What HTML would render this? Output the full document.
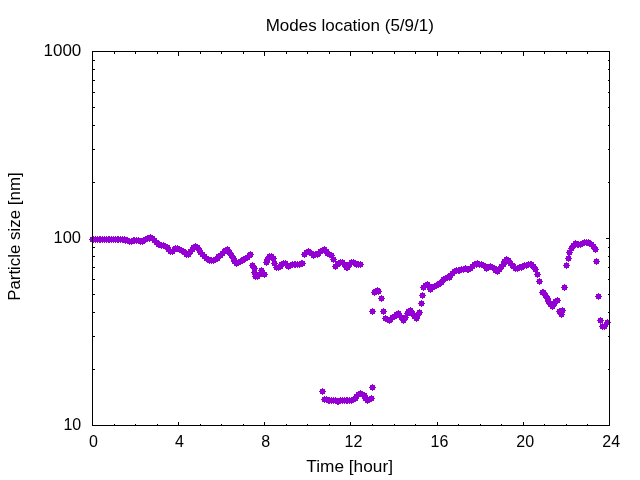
<!DOCTYPE html>
<html><head><meta charset="utf-8"><style>
html,body{margin:0;padding:0;background:#fff;width:640px;height:480px;overflow:hidden}
svg{display:block;will-change:transform}
text{font-family:"Liberation Sans",sans-serif;font-size:16px;fill:#000}
</style></head><body>
<svg width="640" height="480" viewBox="0 0 640 480">
<rect width="640" height="480" fill="#fff"/>
<text transform="translate(349.75,31) scale(1.064,1)" text-anchor="middle">Modes location (5/9/1)</text>
<text transform="translate(81.3,56) scale(1.062,1)" text-anchor="end">1000</text>
<text transform="translate(81.0,243) scale(1.03,1)" text-anchor="end">100</text>
<text transform="translate(81.2,430) scale(1.0,1)" text-anchor="end">10</text>
<text x="93.45" y="447" text-anchor="middle">0</text><text x="179.5" y="447" text-anchor="middle">4</text><text x="265.65" y="447" text-anchor="middle">8</text><text x="353.5" y="447" text-anchor="middle">12</text><text x="439.4" y="447" text-anchor="middle">16</text><text x="525.2" y="447" text-anchor="middle">20</text><text x="611.2" y="447" text-anchor="middle">24</text>
<text transform="translate(349.65,472) scale(1.079,1)" text-anchor="middle">Time [hour]</text>
<text transform="translate(20,236.6) rotate(-90) scale(1.055,1)" text-anchor="middle">Particle size [nm]</text>
<path d="M92.5 425.5v-4 M92.5 51.5v4 M114.5 425.5v-2 M114.5 51.5v2 M135.5 425.5v-2 M135.5 51.5v2 M157.5 425.5v-2 M157.5 51.5v2 M178.5 425.5v-4 M178.5 51.5v4 M200.5 425.5v-2 M200.5 51.5v2 M221.5 425.5v-2 M221.5 51.5v2 M243.5 425.5v-2 M243.5 51.5v2 M264.5 425.5v-4 M264.5 51.5v4 M286.5 425.5v-2 M286.5 51.5v2 M307.5 425.5v-2 M307.5 51.5v2 M329.5 425.5v-2 M329.5 51.5v2 M350.5 425.5v-4 M350.5 51.5v4 M372.5 425.5v-2 M372.5 51.5v2 M394.5 425.5v-2 M394.5 51.5v2 M415.5 425.5v-2 M415.5 51.5v2 M437.5 425.5v-4 M437.5 51.5v4 M458.5 425.5v-2 M458.5 51.5v2 M480.5 425.5v-2 M480.5 51.5v2 M501.5 425.5v-2 M501.5 51.5v2 M523.5 425.5v-4 M523.5 51.5v4 M544.5 425.5v-2 M544.5 51.5v2 M566.5 425.5v-2 M566.5 51.5v2 M587.5 425.5v-2 M587.5 51.5v2 M609.5 425.5v-4 M609.5 51.5v4 M92.5 425.5h4 M609.5 425.5h-4 M92.5 369.5h2 M609.5 369.5h-2 M92.5 336.5h2 M609.5 336.5h-2 M92.5 312.5h2 M609.5 312.5h-2 M92.5 294.5h2 M609.5 294.5h-2 M92.5 279.5h2 M609.5 279.5h-2 M92.5 267.5h2 M609.5 267.5h-2 M92.5 256.5h2 M609.5 256.5h-2 M92.5 247.5h2 M609.5 247.5h-2 M92.5 238.5h4 M609.5 238.5h-4 M92.5 238.5h4 M609.5 238.5h-4 M92.5 182.5h2 M609.5 182.5h-2 M92.5 149.5h2 M609.5 149.5h-2 M92.5 125.5h2 M609.5 125.5h-2 M92.5 107.5h2 M609.5 107.5h-2 M92.5 92.5h2 M609.5 92.5h-2 M92.5 80.5h2 M609.5 80.5h-2 M92.5 69.5h2 M609.5 69.5h-2 M92.5 60.5h2 M609.5 60.5h-2 M92.5 51.5h4 M609.5 51.5h-4" fill="none" stroke="#000" stroke-width="1" shape-rendering="crispEdges"/>
<path d="M90.0 237.0h5v5h-5z M92.0 236.0h1v7h-1z M89.0 239.0h7v1h-7z M91.0 237.0h5v5h-5z M93.0 236.0h1v7h-1z M90.0 239.0h7v1h-7z M93.0 237.0h5v5h-5z M95.0 236.0h1v7h-1z M92.0 239.0h7v1h-7z M95.0 237.0h5v5h-5z M97.0 236.0h1v7h-1z M94.0 239.0h7v1h-7z M97.0 237.0h5v5h-5z M99.0 236.0h1v7h-1z M96.0 239.0h7v1h-7z M98.0 237.0h5v5h-5z M100.0 236.0h1v7h-1z M97.0 239.0h7v1h-7z M100.0 237.0h5v5h-5z M102.0 236.0h1v7h-1z M99.0 239.0h7v1h-7z M102.0 237.0h5v5h-5z M104.0 236.0h1v7h-1z M101.0 239.0h7v1h-7z M104.0 237.0h5v5h-5z M106.0 236.0h1v7h-1z M103.0 239.0h7v1h-7z M106.0 237.0h5v5h-5z M108.0 236.0h1v7h-1z M105.0 239.0h7v1h-7z M107.0 237.0h5v5h-5z M109.0 236.0h1v7h-1z M106.0 239.0h7v1h-7z M109.0 237.0h5v5h-5z M111.0 236.0h1v7h-1z M108.0 239.0h7v1h-7z M111.0 237.0h5v5h-5z M113.0 236.0h1v7h-1z M110.0 239.0h7v1h-7z M113.0 237.0h5v5h-5z M115.0 236.0h1v7h-1z M112.0 239.0h7v1h-7z M115.0 237.0h5v5h-5z M117.0 236.0h1v7h-1z M114.0 239.0h7v1h-7z M116.0 237.0h5v5h-5z M118.0 236.0h1v7h-1z M115.0 239.0h7v1h-7z M118.0 237.0h5v5h-5z M120.0 236.0h1v7h-1z M117.0 239.0h7v1h-7z M120.0 237.0h5v5h-5z M122.0 236.0h1v7h-1z M119.0 239.0h7v1h-7z M122.0 237.0h5v5h-5z M124.0 236.0h1v7h-1z M121.0 239.0h7v1h-7z M123.0 238.0h5v5h-5z M125.0 237.0h1v7h-1z M122.0 240.0h7v1h-7z M125.0 238.0h5v5h-5z M127.0 237.0h1v7h-1z M124.0 240.0h7v1h-7z M127.0 239.0h5v5h-5z M129.0 238.0h1v7h-1z M126.0 241.0h7v1h-7z M129.0 239.0h5v5h-5z M131.0 238.0h1v7h-1z M128.0 241.0h7v1h-7z M131.0 238.0h5v5h-5z M133.0 237.0h1v7h-1z M130.0 240.0h7v1h-7z M132.0 238.0h5v5h-5z M134.0 237.0h1v7h-1z M131.0 240.0h7v1h-7z M134.0 238.0h5v5h-5z M136.0 237.0h1v7h-1z M133.0 240.0h7v1h-7z M136.0 238.0h5v5h-5z M138.0 237.0h1v7h-1z M135.0 240.0h7v1h-7z M138.0 239.0h5v5h-5z M140.0 238.0h1v7h-1z M137.0 241.0h7v1h-7z M140.0 239.0h5v5h-5z M142.0 238.0h1v7h-1z M139.0 241.0h7v1h-7z M141.0 238.0h5v5h-5z M143.0 237.0h1v7h-1z M140.0 240.0h7v1h-7z M143.0 237.0h5v5h-5z M145.0 236.0h1v7h-1z M142.0 239.0h7v1h-7z M145.0 236.0h5v5h-5z M147.0 235.0h1v7h-1z M144.0 238.0h7v1h-7z M147.0 236.0h5v5h-5z M149.0 235.0h1v7h-1z M146.0 238.0h7v1h-7z M148.0 235.0h5v5h-5z M150.0 234.0h1v7h-1z M147.0 237.0h7v1h-7z M150.0 236.0h5v5h-5z M152.0 235.0h1v7h-1z M149.0 238.0h7v1h-7z M152.0 238.0h5v5h-5z M154.0 237.0h1v7h-1z M151.0 240.0h7v1h-7z M154.0 240.0h5v5h-5z M156.0 239.0h1v7h-1z M153.0 242.0h7v1h-7z M156.0 242.0h5v5h-5z M158.0 241.0h1v7h-1z M155.0 244.0h7v1h-7z M157.0 242.0h5v5h-5z M159.0 241.0h1v7h-1z M156.0 244.0h7v1h-7z M159.0 243.0h5v5h-5z M161.0 242.0h1v7h-1z M158.0 245.0h7v1h-7z M161.0 243.0h5v5h-5z M163.0 242.0h1v7h-1z M160.0 245.0h7v1h-7z M163.0 244.0h5v5h-5z M165.0 243.0h1v7h-1z M162.0 246.0h7v1h-7z M165.0 245.0h5v5h-5z M167.0 244.0h1v7h-1z M164.0 247.0h7v1h-7z M166.0 247.0h5v5h-5z M168.0 246.0h1v7h-1z M165.0 249.0h7v1h-7z M168.0 249.0h5v5h-5z M170.0 248.0h1v7h-1z M167.0 251.0h7v1h-7z M170.0 249.0h5v5h-5z M172.0 248.0h1v7h-1z M169.0 251.0h7v1h-7z M172.0 247.0h5v5h-5z M174.0 246.0h1v7h-1z M171.0 249.0h7v1h-7z M173.0 246.0h5v5h-5z M175.0 245.0h1v7h-1z M172.0 248.0h7v1h-7z M175.0 246.0h5v5h-5z M177.0 245.0h1v7h-1z M174.0 248.0h7v1h-7z M177.0 247.0h5v5h-5z M179.0 246.0h1v7h-1z M176.0 249.0h7v1h-7z M179.0 248.0h5v5h-5z M181.0 247.0h1v7h-1z M178.0 250.0h7v1h-7z M181.0 249.0h5v5h-5z M183.0 248.0h1v7h-1z M180.0 251.0h7v1h-7z M182.0 250.0h5v5h-5z M184.0 249.0h1v7h-1z M181.0 252.0h7v1h-7z M184.0 252.0h5v5h-5z M186.0 251.0h1v7h-1z M183.0 254.0h7v1h-7z M186.0 252.0h5v5h-5z M188.0 251.0h1v7h-1z M185.0 254.0h7v1h-7z M188.0 249.0h5v5h-5z M190.0 248.0h1v7h-1z M187.0 251.0h7v1h-7z M190.0 247.0h5v5h-5z M192.0 246.0h1v7h-1z M189.0 249.0h7v1h-7z M191.0 245.0h5v5h-5z M193.0 244.0h1v7h-1z M190.0 247.0h7v1h-7z M193.0 244.0h5v5h-5z M195.0 243.0h1v7h-1z M192.0 246.0h7v1h-7z M195.0 245.0h5v5h-5z M197.0 244.0h1v7h-1z M194.0 247.0h7v1h-7z M197.0 248.0h5v5h-5z M199.0 247.0h1v7h-1z M196.0 250.0h7v1h-7z M198.0 250.0h5v5h-5z M200.0 249.0h1v7h-1z M197.0 252.0h7v1h-7z M200.0 252.0h5v5h-5z M202.0 251.0h1v7h-1z M199.0 254.0h7v1h-7z M202.0 254.0h5v5h-5z M204.0 253.0h1v7h-1z M201.0 256.0h7v1h-7z M204.0 256.0h5v5h-5z M206.0 255.0h1v7h-1z M203.0 258.0h7v1h-7z M206.0 257.0h5v5h-5z M208.0 256.0h1v7h-1z M205.0 259.0h7v1h-7z M207.0 258.0h5v5h-5z M209.0 257.0h1v7h-1z M206.0 260.0h7v1h-7z M209.0 258.0h5v5h-5z M211.0 257.0h1v7h-1z M208.0 260.0h7v1h-7z M211.0 258.0h5v5h-5z M213.0 257.0h1v7h-1z M210.0 260.0h7v1h-7z M213.0 257.0h5v5h-5z M215.0 256.0h1v7h-1z M212.0 259.0h7v1h-7z M215.0 256.0h5v5h-5z M217.0 255.0h1v7h-1z M214.0 258.0h7v1h-7z M216.0 254.0h5v5h-5z M218.0 253.0h1v7h-1z M215.0 256.0h7v1h-7z M218.0 253.0h5v5h-5z M220.0 252.0h1v7h-1z M217.0 255.0h7v1h-7z M220.0 251.0h5v5h-5z M222.0 250.0h1v7h-1z M219.0 253.0h7v1h-7z M222.0 249.0h5v5h-5z M224.0 248.0h1v7h-1z M221.0 251.0h7v1h-7z M223.0 248.0h5v5h-5z M225.0 247.0h1v7h-1z M222.0 250.0h7v1h-7z M225.0 247.0h5v5h-5z M227.0 246.0h1v7h-1z M224.0 249.0h7v1h-7z M227.0 250.0h5v5h-5z M229.0 249.0h1v7h-1z M226.0 252.0h7v1h-7z M229.0 253.0h5v5h-5z M231.0 252.0h1v7h-1z M228.0 255.0h7v1h-7z M231.0 256.0h5v5h-5z M233.0 255.0h1v7h-1z M230.0 258.0h7v1h-7z M232.0 259.0h5v5h-5z M234.0 258.0h1v7h-1z M231.0 261.0h7v1h-7z M234.0 261.0h5v5h-5z M236.0 260.0h1v7h-1z M233.0 263.0h7v1h-7z M236.0 260.0h5v5h-5z M238.0 259.0h1v7h-1z M235.0 262.0h7v1h-7z M238.0 259.0h5v5h-5z M240.0 258.0h1v7h-1z M237.0 261.0h7v1h-7z M240.0 258.0h5v5h-5z M242.0 257.0h1v7h-1z M239.0 260.0h7v1h-7z M241.0 257.0h5v5h-5z M243.0 256.0h1v7h-1z M240.0 259.0h7v1h-7z M243.0 256.0h5v5h-5z M245.0 255.0h1v7h-1z M242.0 258.0h7v1h-7z M245.0 255.0h5v5h-5z M247.0 254.0h1v7h-1z M244.0 257.0h7v1h-7z M247.0 253.0h5v5h-5z M249.0 252.0h1v7h-1z M246.0 255.0h7v1h-7z M248.0 252.0h5v5h-5z M250.0 251.0h1v7h-1z M247.0 254.0h7v1h-7z M605.0 320.0h5v5h-5z M607.0 319.0h1v7h-1z M604.0 322.0h7v1h-7z M264.0 260.0h5v5h-5z M266.0 259.0h1v7h-1z M263.0 262.0h7v1h-7z M265.0 257.0h5v5h-5z M267.0 256.0h1v7h-1z M264.0 259.0h7v1h-7z M267.0 254.0h5v5h-5z M269.0 253.0h1v7h-1z M266.0 256.0h7v1h-7z M269.0 254.0h5v5h-5z M271.0 253.0h1v7h-1z M268.0 256.0h7v1h-7z M271.0 256.0h5v5h-5z M273.0 255.0h1v7h-1z M270.0 258.0h7v1h-7z M272.0 261.0h5v5h-5z M274.0 260.0h1v7h-1z M271.0 263.0h7v1h-7z M274.0 265.0h5v5h-5z M276.0 264.0h1v7h-1z M273.0 267.0h7v1h-7z M276.0 265.0h5v5h-5z M278.0 264.0h1v7h-1z M275.0 267.0h7v1h-7z M278.0 264.0h5v5h-5z M280.0 263.0h1v7h-1z M277.0 266.0h7v1h-7z M279.0 262.0h5v5h-5z M281.0 261.0h1v7h-1z M278.0 264.0h7v1h-7z M281.0 261.0h5v5h-5z M283.0 260.0h1v7h-1z M280.0 263.0h7v1h-7z M283.0 261.0h5v5h-5z M285.0 260.0h1v7h-1z M282.0 263.0h7v1h-7z M285.0 263.0h5v5h-5z M287.0 262.0h1v7h-1z M284.0 265.0h7v1h-7z M286.0 264.0h5v5h-5z M288.0 263.0h1v7h-1z M285.0 266.0h7v1h-7z M288.0 263.0h5v5h-5z M290.0 262.0h1v7h-1z M287.0 265.0h7v1h-7z M290.0 262.0h5v5h-5z M292.0 261.0h1v7h-1z M289.0 264.0h7v1h-7z M292.0 262.0h5v5h-5z M294.0 261.0h1v7h-1z M291.0 264.0h7v1h-7z M293.0 262.0h5v5h-5z M295.0 261.0h1v7h-1z M292.0 264.0h7v1h-7z M295.0 262.0h5v5h-5z M297.0 261.0h1v7h-1z M294.0 264.0h7v1h-7z M297.0 262.0h5v5h-5z M299.0 261.0h1v7h-1z M296.0 264.0h7v1h-7z M299.0 261.0h5v5h-5z M301.0 260.0h1v7h-1z M298.0 263.0h7v1h-7z M300.0 261.0h5v5h-5z M302.0 260.0h1v7h-1z M299.0 263.0h7v1h-7z M302.0 252.0h5v5h-5z M304.0 251.0h1v7h-1z M301.0 254.0h7v1h-7z M304.0 250.0h5v5h-5z M306.0 249.0h1v7h-1z M303.0 252.0h7v1h-7z M306.0 249.0h5v5h-5z M308.0 248.0h1v7h-1z M305.0 251.0h7v1h-7z M307.0 250.0h5v5h-5z M309.0 249.0h1v7h-1z M306.0 252.0h7v1h-7z M309.0 251.0h5v5h-5z M311.0 250.0h1v7h-1z M308.0 253.0h7v1h-7z M311.0 253.0h5v5h-5z M313.0 252.0h1v7h-1z M310.0 255.0h7v1h-7z M313.0 252.0h5v5h-5z M315.0 251.0h1v7h-1z M312.0 254.0h7v1h-7z M315.0 252.0h5v5h-5z M317.0 251.0h1v7h-1z M314.0 254.0h7v1h-7z M316.0 251.0h5v5h-5z M318.0 250.0h1v7h-1z M315.0 253.0h7v1h-7z M318.0 249.0h5v5h-5z M320.0 248.0h1v7h-1z M317.0 251.0h7v1h-7z M320.0 248.0h5v5h-5z M322.0 247.0h1v7h-1z M319.0 250.0h7v1h-7z M322.0 247.0h5v5h-5z M324.0 246.0h1v7h-1z M321.0 249.0h7v1h-7z M324.0 249.0h5v5h-5z M326.0 248.0h1v7h-1z M323.0 251.0h7v1h-7z M325.0 251.0h5v5h-5z M327.0 250.0h1v7h-1z M324.0 253.0h7v1h-7z M327.0 252.0h5v5h-5z M329.0 251.0h1v7h-1z M326.0 254.0h7v1h-7z M329.0 253.0h5v5h-5z M331.0 252.0h1v7h-1z M328.0 255.0h7v1h-7z M331.0 257.0h5v5h-5z M333.0 256.0h1v7h-1z M330.0 259.0h7v1h-7z M333.0 264.0h5v5h-5z M335.0 263.0h1v7h-1z M332.0 266.0h7v1h-7z M335.0 262.0h5v5h-5z M337.0 261.0h1v7h-1z M334.0 264.0h7v1h-7z M336.0 261.0h5v5h-5z M338.0 260.0h1v7h-1z M335.0 263.0h7v1h-7z M338.0 260.0h5v5h-5z M340.0 259.0h1v7h-1z M337.0 262.0h7v1h-7z M340.0 260.0h5v5h-5z M342.0 259.0h1v7h-1z M339.0 262.0h7v1h-7z M342.0 262.0h5v5h-5z M344.0 261.0h1v7h-1z M341.0 264.0h7v1h-7z M344.0 265.0h5v5h-5z M346.0 264.0h1v7h-1z M343.0 267.0h7v1h-7z M345.0 265.0h5v5h-5z M347.0 264.0h1v7h-1z M344.0 267.0h7v1h-7z M347.0 262.0h5v5h-5z M349.0 261.0h1v7h-1z M346.0 264.0h7v1h-7z M349.0 260.0h5v5h-5z M351.0 259.0h1v7h-1z M348.0 262.0h7v1h-7z M351.0 260.0h5v5h-5z M353.0 259.0h1v7h-1z M350.0 262.0h7v1h-7z M353.0 261.0h5v5h-5z M355.0 260.0h1v7h-1z M352.0 263.0h7v1h-7z M354.0 262.0h5v5h-5z M356.0 261.0h1v7h-1z M353.0 264.0h7v1h-7z M356.0 262.0h5v5h-5z M358.0 261.0h1v7h-1z M355.0 264.0h7v1h-7z M358.0 262.0h5v5h-5z M360.0 261.0h1v7h-1z M357.0 264.0h7v1h-7z M322.0 397.0h5v5h-5z M324.0 396.0h1v7h-1z M321.0 399.0h7v1h-7z M324.0 397.0h5v5h-5z M326.0 396.0h1v7h-1z M323.0 399.0h7v1h-7z M326.0 398.0h5v5h-5z M328.0 397.0h1v7h-1z M325.0 400.0h7v1h-7z M327.0 398.0h5v5h-5z M329.0 397.0h1v7h-1z M326.0 400.0h7v1h-7z M329.0 398.0h5v5h-5z M331.0 397.0h1v7h-1z M328.0 400.0h7v1h-7z M331.0 398.0h5v5h-5z M333.0 397.0h1v7h-1z M330.0 400.0h7v1h-7z M333.0 398.0h5v5h-5z M335.0 397.0h1v7h-1z M332.0 400.0h7v1h-7z M335.0 399.0h5v5h-5z M337.0 398.0h1v7h-1z M334.0 401.0h7v1h-7z M336.0 399.0h5v5h-5z M338.0 398.0h1v7h-1z M335.0 401.0h7v1h-7z M338.0 398.0h5v5h-5z M340.0 397.0h1v7h-1z M337.0 400.0h7v1h-7z M340.0 398.0h5v5h-5z M342.0 397.0h1v7h-1z M339.0 400.0h7v1h-7z M342.0 398.0h5v5h-5z M344.0 397.0h1v7h-1z M341.0 400.0h7v1h-7z M344.0 398.0h5v5h-5z M346.0 397.0h1v7h-1z M343.0 400.0h7v1h-7z M345.0 398.0h5v5h-5z M347.0 397.0h1v7h-1z M344.0 400.0h7v1h-7z M347.0 398.0h5v5h-5z M349.0 397.0h1v7h-1z M346.0 400.0h7v1h-7z M349.0 398.0h5v5h-5z M351.0 397.0h1v7h-1z M348.0 400.0h7v1h-7z M351.0 397.0h5v5h-5z M353.0 396.0h1v7h-1z M350.0 399.0h7v1h-7z M353.0 396.0h5v5h-5z M355.0 395.0h1v7h-1z M352.0 398.0h7v1h-7z M354.0 394.0h5v5h-5z M356.0 393.0h1v7h-1z M353.0 396.0h7v1h-7z M356.0 392.0h5v5h-5z M358.0 391.0h1v7h-1z M355.0 394.0h7v1h-7z M358.0 391.0h5v5h-5z M360.0 390.0h1v7h-1z M357.0 393.0h7v1h-7z M360.0 392.0h5v5h-5z M362.0 391.0h1v7h-1z M359.0 394.0h7v1h-7z M362.0 393.0h5v5h-5z M364.0 392.0h1v7h-1z M361.0 395.0h7v1h-7z M363.0 396.0h5v5h-5z M365.0 395.0h1v7h-1z M362.0 398.0h7v1h-7z M365.0 398.0h5v5h-5z M367.0 397.0h1v7h-1z M364.0 400.0h7v1h-7z M367.0 397.0h5v5h-5z M369.0 396.0h1v7h-1z M366.0 399.0h7v1h-7z M369.0 396.0h5v5h-5z M371.0 395.0h1v7h-1z M368.0 398.0h7v1h-7z M372.0 290.0h5v5h-5z M374.0 289.0h1v7h-1z M371.0 292.0h7v1h-7z M373.0 289.0h5v5h-5z M375.0 288.0h1v7h-1z M372.0 291.0h7v1h-7z M375.0 288.0h5v5h-5z M377.0 287.0h1v7h-1z M374.0 290.0h7v1h-7z M376.0 289.0h5v5h-5z M378.0 288.0h1v7h-1z M375.0 291.0h7v1h-7z M383.0 316.0h5v5h-5z M385.0 315.0h1v7h-1z M382.0 318.0h7v1h-7z M385.0 317.0h5v5h-5z M387.0 316.0h1v7h-1z M384.0 319.0h7v1h-7z M387.0 318.0h5v5h-5z M389.0 317.0h1v7h-1z M386.0 320.0h7v1h-7z M388.0 317.0h5v5h-5z M390.0 316.0h1v7h-1z M387.0 319.0h7v1h-7z M390.0 315.0h5v5h-5z M392.0 314.0h1v7h-1z M389.0 317.0h7v1h-7z M392.0 314.0h5v5h-5z M394.0 313.0h1v7h-1z M391.0 316.0h7v1h-7z M394.0 312.0h5v5h-5z M396.0 311.0h1v7h-1z M393.0 314.0h7v1h-7z M396.0 311.0h5v5h-5z M398.0 310.0h1v7h-1z M395.0 313.0h7v1h-7z M397.0 313.0h5v5h-5z M399.0 312.0h1v7h-1z M396.0 315.0h7v1h-7z M399.0 315.0h5v5h-5z M401.0 314.0h1v7h-1z M398.0 317.0h7v1h-7z M401.0 318.0h5v5h-5z M403.0 317.0h1v7h-1z M400.0 320.0h7v1h-7z M403.0 315.0h5v5h-5z M405.0 314.0h1v7h-1z M402.0 317.0h7v1h-7z M405.0 311.0h5v5h-5z M407.0 310.0h1v7h-1z M404.0 313.0h7v1h-7z M406.0 309.0h5v5h-5z M408.0 308.0h1v7h-1z M405.0 311.0h7v1h-7z M408.0 308.0h5v5h-5z M410.0 307.0h1v7h-1z M407.0 310.0h7v1h-7z M410.0 311.0h5v5h-5z M412.0 310.0h1v7h-1z M409.0 313.0h7v1h-7z M412.0 314.0h5v5h-5z M414.0 313.0h1v7h-1z M411.0 316.0h7v1h-7z M414.0 316.0h5v5h-5z M416.0 315.0h1v7h-1z M413.0 318.0h7v1h-7z M415.0 313.0h5v5h-5z M417.0 312.0h1v7h-1z M414.0 315.0h7v1h-7z M417.0 310.0h5v5h-5z M419.0 309.0h1v7h-1z M416.0 312.0h7v1h-7z M421.0 285.0h5v5h-5z M423.0 284.0h1v7h-1z M420.0 287.0h7v1h-7z M423.0 283.0h5v5h-5z M425.0 282.0h1v7h-1z M422.0 285.0h7v1h-7z M425.0 282.0h5v5h-5z M427.0 281.0h1v7h-1z M424.0 284.0h7v1h-7z M427.0 284.0h5v5h-5z M429.0 283.0h1v7h-1z M426.0 286.0h7v1h-7z M428.0 287.0h5v5h-5z M430.0 286.0h1v7h-1z M427.0 289.0h7v1h-7z M430.0 285.0h5v5h-5z M432.0 284.0h1v7h-1z M429.0 287.0h7v1h-7z M432.0 284.0h5v5h-5z M434.0 283.0h1v7h-1z M431.0 286.0h7v1h-7z M434.0 283.0h5v5h-5z M436.0 282.0h1v7h-1z M433.0 285.0h7v1h-7z M436.0 282.0h5v5h-5z M438.0 281.0h1v7h-1z M435.0 284.0h7v1h-7z M437.0 281.0h5v5h-5z M439.0 280.0h1v7h-1z M436.0 283.0h7v1h-7z M439.0 280.0h5v5h-5z M441.0 279.0h1v7h-1z M438.0 282.0h7v1h-7z M441.0 277.0h5v5h-5z M443.0 276.0h1v7h-1z M440.0 279.0h7v1h-7z M443.0 276.0h5v5h-5z M445.0 275.0h1v7h-1z M442.0 278.0h7v1h-7z M445.0 275.0h5v5h-5z M447.0 274.0h1v7h-1z M444.0 277.0h7v1h-7z M447.0 275.0h5v5h-5z M449.0 274.0h1v7h-1z M446.0 277.0h7v1h-7z M448.0 273.0h5v5h-5z M450.0 272.0h1v7h-1z M447.0 275.0h7v1h-7z M450.0 271.0h5v5h-5z M452.0 270.0h1v7h-1z M449.0 273.0h7v1h-7z M452.0 269.0h5v5h-5z M454.0 268.0h1v7h-1z M451.0 271.0h7v1h-7z M454.0 268.0h5v5h-5z M456.0 267.0h1v7h-1z M453.0 270.0h7v1h-7z M456.0 268.0h5v5h-5z M458.0 267.0h1v7h-1z M455.0 270.0h7v1h-7z M457.0 268.0h5v5h-5z M459.0 267.0h1v7h-1z M456.0 270.0h7v1h-7z M459.0 267.0h5v5h-5z M461.0 266.0h1v7h-1z M458.0 269.0h7v1h-7z M461.0 267.0h5v5h-5z M463.0 266.0h1v7h-1z M460.0 269.0h7v1h-7z M463.0 266.0h5v5h-5z M465.0 265.0h1v7h-1z M462.0 268.0h7v1h-7z M465.0 267.0h5v5h-5z M467.0 266.0h1v7h-1z M464.0 269.0h7v1h-7z M466.0 267.0h5v5h-5z M468.0 266.0h1v7h-1z M465.0 269.0h7v1h-7z M468.0 266.0h5v5h-5z M470.0 265.0h1v7h-1z M467.0 268.0h7v1h-7z M470.0 264.0h5v5h-5z M472.0 263.0h1v7h-1z M469.0 266.0h7v1h-7z M472.0 262.0h5v5h-5z M474.0 261.0h1v7h-1z M471.0 264.0h7v1h-7z M474.0 262.0h5v5h-5z M476.0 261.0h1v7h-1z M473.0 264.0h7v1h-7z M475.0 261.0h5v5h-5z M477.0 260.0h1v7h-1z M474.0 263.0h7v1h-7z M477.0 262.0h5v5h-5z M479.0 261.0h1v7h-1z M476.0 264.0h7v1h-7z M479.0 262.0h5v5h-5z M481.0 261.0h1v7h-1z M478.0 264.0h7v1h-7z M481.0 263.0h5v5h-5z M483.0 262.0h1v7h-1z M480.0 265.0h7v1h-7z M483.0 264.0h5v5h-5z M485.0 263.0h1v7h-1z M482.0 266.0h7v1h-7z M484.0 266.0h5v5h-5z M486.0 265.0h1v7h-1z M483.0 268.0h7v1h-7z M486.0 265.0h5v5h-5z M488.0 264.0h1v7h-1z M485.0 267.0h7v1h-7z M488.0 264.0h5v5h-5z M490.0 263.0h1v7h-1z M487.0 266.0h7v1h-7z M490.0 265.0h5v5h-5z M492.0 264.0h1v7h-1z M489.0 267.0h7v1h-7z M492.0 266.0h5v5h-5z M494.0 265.0h1v7h-1z M491.0 268.0h7v1h-7z M493.0 268.0h5v5h-5z M495.0 267.0h1v7h-1z M492.0 270.0h7v1h-7z M495.0 269.0h5v5h-5z M497.0 268.0h1v7h-1z M494.0 271.0h7v1h-7z M497.0 267.0h5v5h-5z M499.0 266.0h1v7h-1z M496.0 269.0h7v1h-7z M499.0 264.0h5v5h-5z M501.0 263.0h1v7h-1z M498.0 266.0h7v1h-7z M501.0 262.0h5v5h-5z M503.0 261.0h1v7h-1z M500.0 264.0h7v1h-7z M502.0 259.0h5v5h-5z M504.0 258.0h1v7h-1z M501.0 261.0h7v1h-7z M504.0 257.0h5v5h-5z M506.0 256.0h1v7h-1z M503.0 259.0h7v1h-7z M506.0 258.0h5v5h-5z M508.0 257.0h1v7h-1z M505.0 260.0h7v1h-7z M508.0 261.0h5v5h-5z M510.0 260.0h1v7h-1z M507.0 263.0h7v1h-7z M510.0 263.0h5v5h-5z M512.0 262.0h1v7h-1z M509.0 265.0h7v1h-7z M511.0 264.0h5v5h-5z M513.0 263.0h1v7h-1z M510.0 266.0h7v1h-7z M513.0 266.0h5v5h-5z M515.0 265.0h1v7h-1z M512.0 268.0h7v1h-7z M515.0 266.0h5v5h-5z M517.0 265.0h1v7h-1z M514.0 268.0h7v1h-7z M517.0 265.0h5v5h-5z M519.0 264.0h1v7h-1z M516.0 267.0h7v1h-7z M519.0 265.0h5v5h-5z M521.0 264.0h1v7h-1z M518.0 267.0h7v1h-7z M520.0 264.0h5v5h-5z M522.0 263.0h1v7h-1z M519.0 266.0h7v1h-7z M522.0 263.0h5v5h-5z M524.0 262.0h1v7h-1z M521.0 265.0h7v1h-7z M524.0 263.0h5v5h-5z M526.0 262.0h1v7h-1z M523.0 265.0h7v1h-7z M526.0 262.0h5v5h-5z M528.0 261.0h1v7h-1z M525.0 264.0h7v1h-7z M528.0 262.0h5v5h-5z M530.0 261.0h1v7h-1z M527.0 264.0h7v1h-7z M529.0 262.0h5v5h-5z M531.0 261.0h1v7h-1z M528.0 264.0h7v1h-7z M531.0 264.0h5v5h-5z M533.0 263.0h1v7h-1z M530.0 266.0h7v1h-7z M533.0 267.0h5v5h-5z M535.0 266.0h1v7h-1z M532.0 269.0h7v1h-7z M535.0 272.0h5v5h-5z M537.0 271.0h1v7h-1z M534.0 274.0h7v1h-7z M537.0 279.0h5v5h-5z M539.0 278.0h1v7h-1z M536.0 281.0h7v1h-7z M540.0 290.0h5v5h-5z M542.0 289.0h1v7h-1z M539.0 292.0h7v1h-7z M541.0 290.0h5v5h-5z M543.0 289.0h1v7h-1z M540.0 292.0h7v1h-7z M543.0 293.0h5v5h-5z M545.0 292.0h1v7h-1z M542.0 295.0h7v1h-7z M545.0 296.0h5v5h-5z M547.0 295.0h1v7h-1z M544.0 298.0h7v1h-7z M546.0 299.0h5v5h-5z M548.0 298.0h1v7h-1z M545.0 301.0h7v1h-7z M548.0 302.0h5v5h-5z M550.0 301.0h1v7h-1z M547.0 304.0h7v1h-7z M550.0 304.0h5v5h-5z M552.0 303.0h1v7h-1z M549.0 306.0h7v1h-7z M552.0 301.0h5v5h-5z M554.0 300.0h1v7h-1z M551.0 303.0h7v1h-7z M553.0 299.0h5v5h-5z M555.0 298.0h1v7h-1z M552.0 301.0h7v1h-7z M555.0 298.0h5v5h-5z M557.0 297.0h1v7h-1z M554.0 300.0h7v1h-7z M605.0 320.0h5v5h-5z M607.0 319.0h1v7h-1z M604.0 322.0h7v1h-7z M566.0 256.0h5v5h-5z M568.0 255.0h1v7h-1z M565.0 258.0h7v1h-7z M567.0 250.0h5v5h-5z M569.0 249.0h1v7h-1z M566.0 252.0h7v1h-7z M569.0 246.0h5v5h-5z M571.0 245.0h1v7h-1z M568.0 248.0h7v1h-7z M571.0 243.0h5v5h-5z M573.0 242.0h1v7h-1z M570.0 245.0h7v1h-7z M573.0 241.0h5v5h-5z M575.0 240.0h1v7h-1z M572.0 243.0h7v1h-7z M575.0 242.0h5v5h-5z M577.0 241.0h1v7h-1z M574.0 244.0h7v1h-7z M576.0 242.0h5v5h-5z M578.0 241.0h1v7h-1z M575.0 244.0h7v1h-7z M578.0 242.0h5v5h-5z M580.0 241.0h1v7h-1z M577.0 244.0h7v1h-7z M580.0 241.0h5v5h-5z M582.0 240.0h1v7h-1z M579.0 243.0h7v1h-7z M582.0 240.0h5v5h-5z M584.0 239.0h1v7h-1z M581.0 242.0h7v1h-7z M584.0 240.0h5v5h-5z M586.0 239.0h1v7h-1z M583.0 242.0h7v1h-7z M586.0 240.0h5v5h-5z M588.0 239.0h1v7h-1z M585.0 242.0h7v1h-7z M587.0 241.0h5v5h-5z M589.0 240.0h1v7h-1z M586.0 243.0h7v1h-7z M589.0 242.0h5v5h-5z M591.0 241.0h1v7h-1z M588.0 244.0h7v1h-7z M591.0 244.0h5v5h-5z M593.0 243.0h1v7h-1z M590.0 246.0h7v1h-7z M593.0 247.0h5v5h-5z M595.0 246.0h1v7h-1z M592.0 249.0h7v1h-7z M605.0 320.0h5v5h-5z M607.0 319.0h1v7h-1z M604.0 322.0h7v1h-7z M250.0 263.0h5v5h-5z M252.0 262.0h1v7h-1z M249.0 265.0h7v1h-7z M252.0 266.0h5v5h-5z M254.0 265.0h1v7h-1z M251.0 268.0h7v1h-7z M252.0 270.0h5v5h-5z M254.0 269.0h1v7h-1z M251.0 272.0h7v1h-7z M253.0 274.0h5v5h-5z M255.0 273.0h1v7h-1z M252.0 276.0h7v1h-7z M255.0 274.0h5v5h-5z M257.0 273.0h1v7h-1z M254.0 276.0h7v1h-7z M257.0 272.0h5v5h-5z M259.0 271.0h1v7h-1z M256.0 274.0h7v1h-7z M259.0 268.0h5v5h-5z M261.0 267.0h1v7h-1z M258.0 270.0h7v1h-7z M260.0 270.0h5v5h-5z M262.0 269.0h1v7h-1z M259.0 272.0h7v1h-7z M262.0 272.0h5v5h-5z M264.0 271.0h1v7h-1z M261.0 274.0h7v1h-7z M557.0 309.0h5v5h-5z M559.0 308.0h1v7h-1z M556.0 311.0h7v1h-7z M559.0 312.0h5v5h-5z M561.0 311.0h1v7h-1z M558.0 314.0h7v1h-7z M560.0 308.0h5v5h-5z M562.0 307.0h1v7h-1z M559.0 310.0h7v1h-7z M598.0 318.0h5v5h-5z M600.0 317.0h1v7h-1z M597.0 320.0h7v1h-7z M600.0 324.0h5v5h-5z M602.0 323.0h1v7h-1z M599.0 326.0h7v1h-7z M602.0 324.0h5v5h-5z M604.0 323.0h1v7h-1z M601.0 326.0h7v1h-7z M320.0 389.0h5v5h-5z M322.0 388.0h1v7h-1z M319.0 391.0h7v1h-7z M370.0 385.0h5v5h-5z M372.0 384.0h1v7h-1z M369.0 387.0h7v1h-7z M370.0 309.0h5v5h-5z M372.0 308.0h1v7h-1z M369.0 311.0h7v1h-7z M381.0 309.0h5v5h-5z M383.0 308.0h1v7h-1z M380.0 311.0h7v1h-7z M379.0 296.0h5v5h-5z M381.0 295.0h1v7h-1z M378.0 298.0h7v1h-7z M419.0 301.0h5v5h-5z M421.0 300.0h1v7h-1z M418.0 303.0h7v1h-7z M420.0 293.0h5v5h-5z M422.0 292.0h1v7h-1z M419.0 295.0h7v1h-7z M562.0 285.0h5v5h-5z M564.0 284.0h1v7h-1z M561.0 287.0h7v1h-7z M564.0 263.0h5v5h-5z M566.0 262.0h1v7h-1z M563.0 265.0h7v1h-7z M594.0 259.0h5v5h-5z M596.0 258.0h1v7h-1z M593.0 261.0h7v1h-7z M596.0 294.0h5v5h-5z M598.0 293.0h1v7h-1z M595.0 296.0h7v1h-7z" fill="#9400d3" shape-rendering="crispEdges"/>
<path d="M92.5 51.5H609.5V425.5H92.5Z" fill="none" stroke="#000" stroke-width="1" shape-rendering="crispEdges"/>
</svg>
</body></html>
